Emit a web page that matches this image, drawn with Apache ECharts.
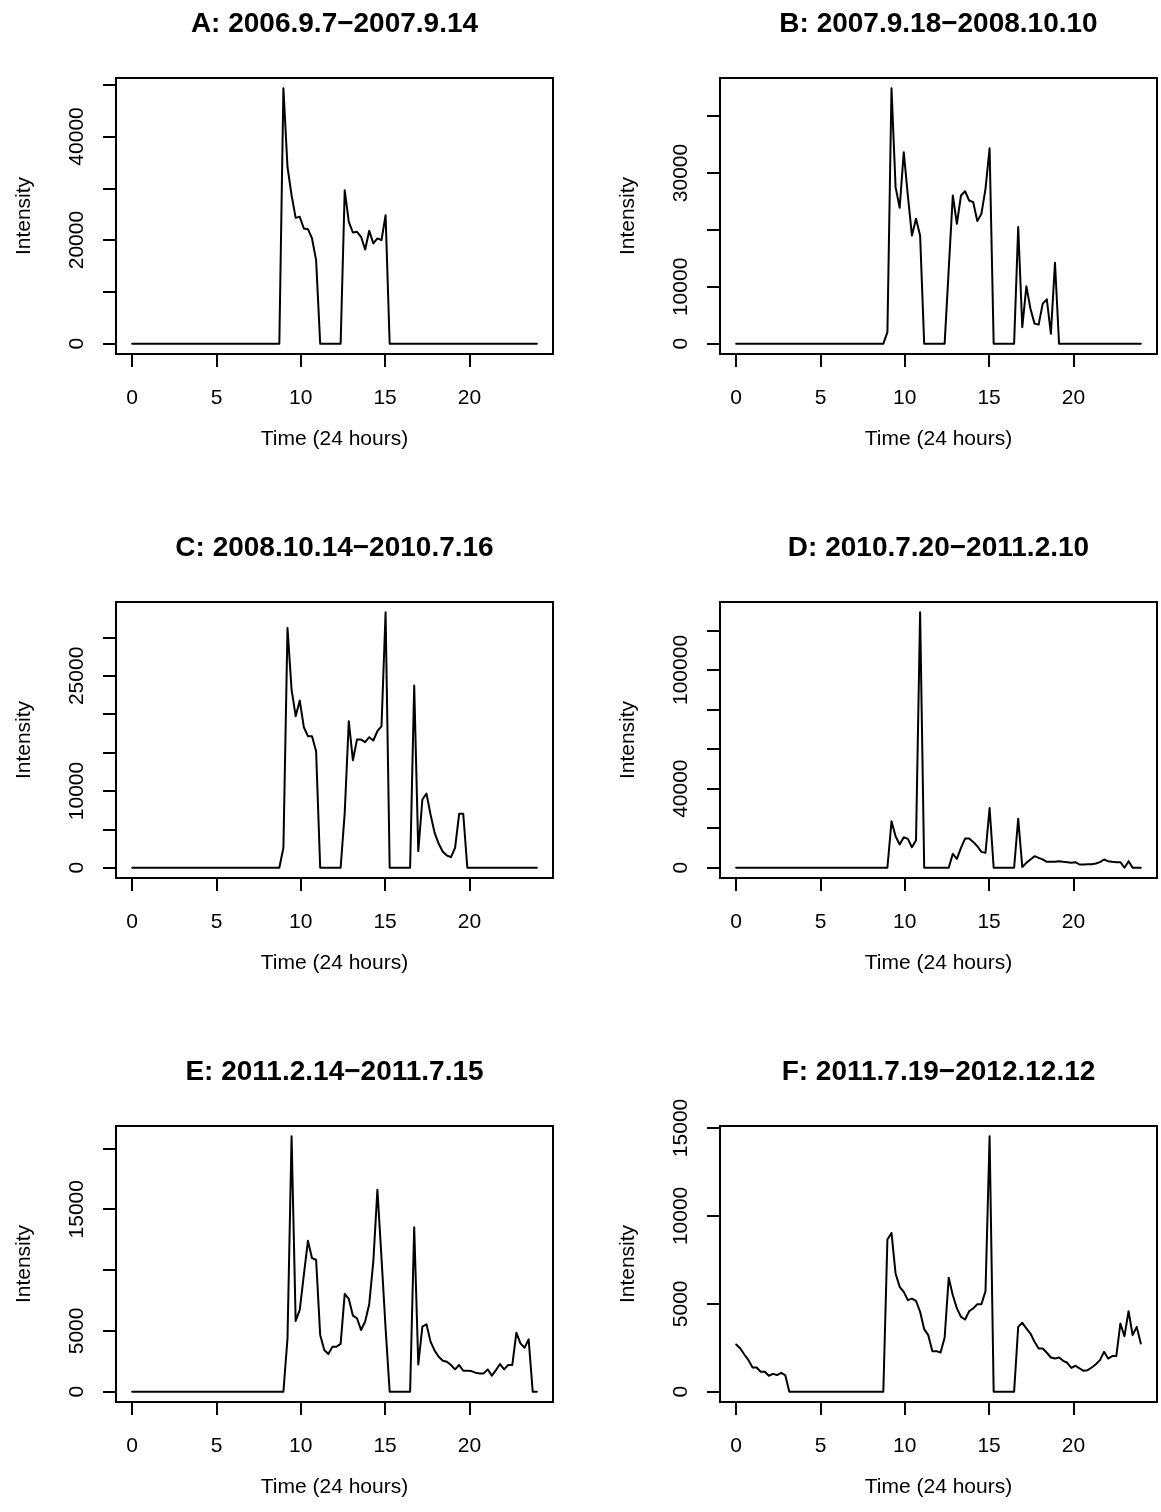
<!DOCTYPE html>
<html>
<head>
<meta charset="utf-8">
<title>Intensity over 24 hours, six periods</title>
<script src="https://cdn.jsdelivr.net/npm/echarts@6/dist/echarts.min.js"></script>
<style>
  html, body { margin: 0; padding: 0; background: #fff; }
  #chart { width: 1161px; height: 1512px; }
</style>
</head>
<body>
<div id="chart"></div>
<script>
// sampling grid: 100 equally spaced points across the day
const HOURS = Array.from({ length: 100 }, (_, k) => (24 * k) / 99);

const TITLES = [
  'A: 2006.9.7\u22122007.9.14',
  'B: 2007.9.18\u22122008.10.10',
  'C: 2008.10.14\u22122010.7.16',
  'D: 2010.7.20\u22122011.2.10',
  'E: 2011.2.14\u22122011.7.15',
  'F: 2011.7.19\u22122012.12.12',
];

const X_NAME = 'Time (24 hours)';
const Y_NAME = 'Intensity';
const X_TICKS = [0, 5, 10, 15, 20];

const A_VALUES = [
  0, 0, 0, 0, 0, 0, 0, 0, 0, 0, 0, 0, 0, 0, 0, 0, 0, 0, 0, 0,
  0, 0, 0, 0, 0, 0, 0, 0, 0, 0, 0, 0, 0, 0, 0, 0, 0,
  49300, 34100, 28650, 24290, 24490, 22240, 22110, 20320, 16150,
  0, 0, 0, 0, 0, 0,
  29600, 23520, 21470, 21600, 20640, 18200, 21790, 19360, 20320, 20000, 24800,
  0, 0, 0, 0, 0, 0, 0, 0, 0, 0, 0, 0, 0, 0, 0, 0, 0, 0, 0, 0,
  0, 0, 0, 0, 0, 0, 0, 0, 0, 0, 0, 0, 0, 0, 0, 0, 0,
];
const B_VALUES = [
  0, 0, 0, 0, 0, 0, 0, 0, 0, 0, 0, 0, 0, 0, 0, 0, 0, 0, 0, 0,
  0, 0, 0, 0, 0, 0, 0, 0, 0, 0, 0, 0, 0, 0, 0, 0, 0,
  2050, 44900, 27520, 23890, 33660, 26050, 19040, 21960, 19040,
  0, 0, 0, 0, 0, 0,
  13070, 26050, 21080, 26050, 26800, 25170, 24880, 21550, 22840, 27220, 34350,
  0, 0, 0, 0, 0, 0,
  20500, 2920, 10090, 6170, 3540, 3360, 7050, 7810, 1780, 14240,
  0, 0, 0, 0, 0, 0, 0, 0, 0, 0, 0, 0, 0, 0, 0, 0, 0, 0, 0, 0, 0,
];
const C_VALUES = [
  0, 0, 0, 0, 0, 0, 0, 0, 0, 0, 0, 0, 0, 0, 0, 0, 0, 0, 0, 0,
  0, 0, 0, 0, 0, 0, 0, 0, 0, 0, 0, 0, 0, 0, 0, 0, 0,
  2600, 31240, 23210, 19750, 21780, 18310, 17140, 17140, 15190,
  0, 0, 0, 0, 0, 0,
  7160, 19090, 14010, 16700, 16700, 16360, 17010, 16580, 17790, 18440, 33290,
  0, 0, 0, 0, 0, 0,
  23740, 2170, 8900, 9680, 6940, 4550, 3120, 2080, 1600, 1390, 2600, 7030, 7030,
  0, 0, 0, 0, 0, 0, 0, 0, 0, 0, 0, 0, 0, 0, 0, 0, 0, 0,
];
const D_VALUES = [
  0, 0, 0, 0, 0, 0, 0, 0, 0, 0, 0, 0, 0, 0, 0, 0, 0, 0, 0, 0,
  0, 0, 0, 0, 0, 0, 0, 0, 0, 0, 0, 0, 0, 0, 0, 0, 0, 0,
  23500, 15930, 11740, 15430, 14590, 10390, 13920, 129200,
  0, 0, 0, 0, 0, 0, 0,
  7030, 4520, 10060, 14760, 14760, 13080, 10900, 8040, 7540, 30200,
  0, 0, 0, 0, 0, 0,
  24820, 400, 2500, 4200, 5860, 5000, 4200, 3000, 3000, 3000,
  3340, 3000, 2840, 2500, 2840, 1660, 1660, 1830, 1830, 2160,
  2840, 4200, 3340, 3000, 2840, 2840, 0, 3340, 0, 0, 0,
];
const E_VALUES = [
  0, 0, 0, 0, 0, 0, 0, 0, 0, 0, 0, 0, 0, 0, 0, 0, 0, 0, 0, 0,
  0, 0, 0, 0, 0, 0, 0, 0, 0, 0, 0, 0, 0, 0, 0, 0, 0, 0,
  4390, 21000, 5820, 6730, 9610, 12410, 10980, 10850, 4670, 3430,
  3100, 3710, 3710, 3930, 8050, 7630, 6260, 6040, 5080, 5770,
  7220, 10710, 16610, 10980, 5220,
  0, 0, 0, 0, 0, 0,
  13510, 2250, 5350, 5550, 4120, 3380, 2880, 2550, 2470, 2200,
  1840, 2200, 1730, 1730, 1700, 1570, 1510, 1510, 1840, 1320,
  1780, 2280, 1840, 2200, 2200, 4860, 3980, 3620, 4310, 0, 0,
];
const F_VALUES = [
  2690, 2460, 2120, 1800, 1380, 1380, 1140, 1140, 910, 1020, 950, 1080, 950,
  0, 0, 0, 0, 0, 0, 0, 0, 0, 0, 0, 0, 0, 0, 0, 0, 0, 0, 0, 0, 0, 0, 0, 0,
  8656, 9030, 6720, 5970, 5680, 5210, 5300, 5170, 4550, 3560,
  3220, 2310, 2310, 2230, 3070, 6480, 5490, 4740, 4260, 4110,
  4580, 4740, 4980, 4980, 5720, 14530,
  0, 0, 0, 0, 0, 0,
  3690, 3920, 3600, 3310, 2840, 2460, 2460, 2220, 1950, 1890,
  1950, 1760, 1650, 1360, 1480, 1330, 1190, 1230, 1380, 1570,
  1800, 2270, 1890, 2030, 2030, 3880, 3160, 4580, 3220, 3690, 2750,
];

// y ticks, and the subset of ticks that carry a label
const A_Y_TICKS = [0, 10000, 20000, 30000, 40000, 50000];
const A_Y_LABELS = [0, 20000, 40000];
const B_Y_TICKS = [0, 10000, 20000, 30000, 40000];
const B_Y_LABELS = [0, 10000, 30000];
const C_Y_TICKS = [0, 5000, 10000, 15000, 20000, 25000, 30000];
const C_Y_LABELS = [0, 10000, 25000];
const D_Y_TICKS = [0, 20000, 40000, 60000, 80000, 100000, 120000];
const D_Y_LABELS = [0, 40000, 100000];
const E_Y_TICKS = [0, 5000, 10000, 15000, 20000];
const E_Y_LABELS = [0, 5000, 15000];
const F_Y_TICKS = [0, 5000, 10000, 15000];
const F_Y_LABELS = [0, 5000, 10000, 15000];

const FONT = "'Liberation Sans', Arial, Helvetica, sans-serif";
const BOX_W = 437;
const BOX_H = 276;
const COL_LEFT = [116, 720];
const ROW_TOP = [78, 602, 1126];

const panels = [
  { values: A_VALUES, ticks: A_Y_TICKS, labels: A_Y_LABELS },
  { values: B_VALUES, ticks: B_Y_TICKS, labels: B_Y_LABELS },
  { values: C_VALUES, ticks: C_Y_TICKS, labels: C_Y_LABELS },
  { values: D_VALUES, ticks: D_Y_TICKS, labels: D_Y_LABELS },
  { values: E_VALUES, ticks: E_Y_TICKS, labels: E_Y_LABELS },
  { values: F_VALUES, ticks: F_Y_TICKS, labels: F_Y_LABELS },
].map((p, i) => ({
  ...p,
  title: TITLES[i],
  left: COL_LEFT[i % 2],
  top: ROW_TOP[Math.floor(i / 2)],
}));

// R-style range: data range padded by 4% each side
const padMin = (v) => v.min - 0.04 * (v.max - v.min);
const padMax = (v) => v.max + 0.04 * (v.max - v.min);

const axisText = { color: '#000', fontSize: 21, fontFamily: FONT };
const tickStyle = { color: '#000', width: 2 };

const chart = echarts.init(document.getElementById('chart'), null, { renderer: 'canvas' });

chart.setOption({
  animation: false,
  backgroundColor: '#fff',
  title: panels.map((p) => ({
    text: p.title,
    left: p.left + BOX_W / 2,
    top: p.top - 68,
    textAlign: 'center',
    padding: 0,
    textStyle: { color: '#000', fontSize: 28, fontWeight: 'bold', fontFamily: FONT },
  })),
  grid: panels.map((p) => ({
    left: p.left,
    top: p.top,
    width: BOX_W,
    height: BOX_H,
    show: true,
    borderColor: '#000',
    borderWidth: 2,
    backgroundColor: 'transparent',
    containLabel: false,
    outerBoundsMode: 'none',
  })),
  xAxis: panels.map((p, i) => ({
    type: 'value',
    gridIndex: i,
    min: padMin,
    max: padMax,
    axisLine: { show: true, onZero: false, lineStyle: tickStyle },
    axisTick: { show: true, inside: false, length: 13, customValues: X_TICKS, lineStyle: tickStyle },
    axisLabel: { ...axisText, customValues: X_TICKS, margin: 34, formatter: (v) => String(v) },
    splitLine: { show: false },
    name: X_NAME,
    nameLocation: 'middle',
    nameGap: 75,
    nameTextStyle: axisText,
  })),
  yAxis: panels.map((p, i) => ({
    type: 'value',
    gridIndex: i,
    min: padMin,
    max: padMax,
    axisLine: { show: true, onZero: false, lineStyle: tickStyle },
    axisTick: { show: true, inside: false, length: 13, customValues: p.ticks, lineStyle: tickStyle },
    axisLabel: { ...axisText, customValues: p.labels, rotate: 90, margin: 28, formatter: (v) => String(v) },
    splitLine: { show: false },
    name: Y_NAME,
    nameLocation: 'middle',
    nameRotate: 90,
    nameGap: 81,
    nameTextStyle: axisText,
  })),
  series: panels.map((p, i) => ({
    type: 'line',
    xAxisIndex: i,
    yAxisIndex: i,
    data: HOURS.map((t, k) => [t, p.values[k]]),
    symbol: 'none',
    showSymbol: false,
    silent: true,
    lineStyle: { color: '#000', width: 2, join: 'round', cap: 'round' },
  })),
});
</script>
</body>
</html>
